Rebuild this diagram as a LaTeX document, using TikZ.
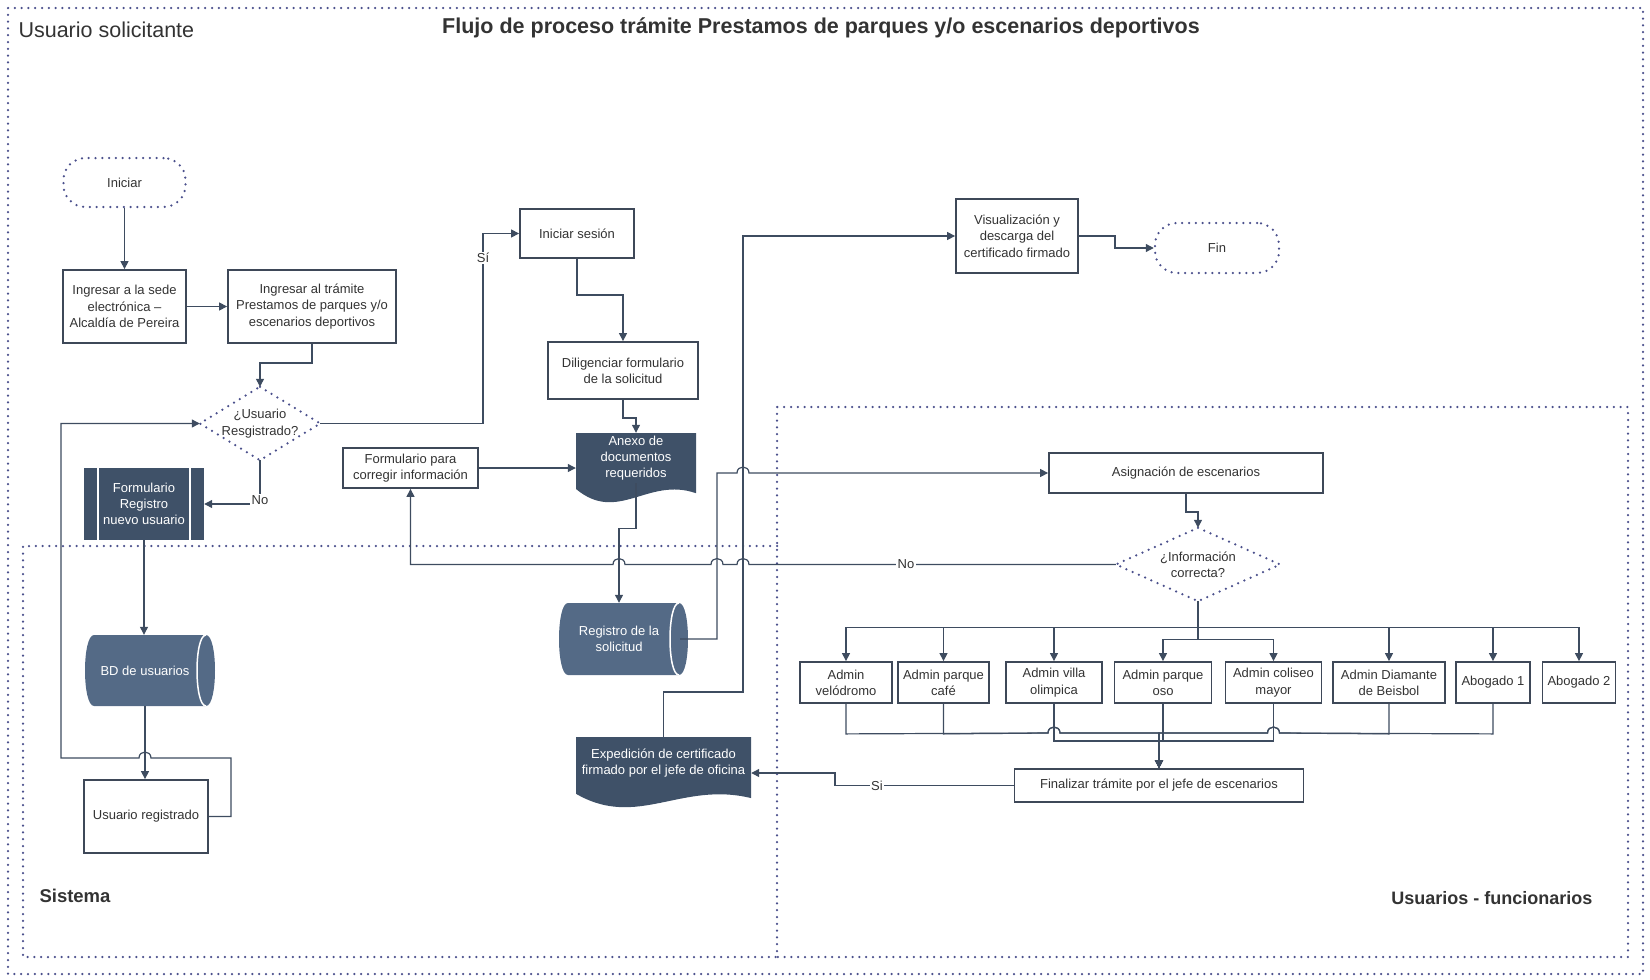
\documentclass[tikz,border=0pt]{standalone}
\usepackage{fontspec}
\setmainfont{Liberation Sans}
\usepackage{xcolor}
\usepackage{tikz}
\usetikzlibrary{arrows.meta,calc}
\definecolor{linecol}{RGB}{62,76,96}
\definecolor{boxcol}{RGB}{62,72,88}
\definecolor{darkfill}{RGB}{63,81,104}
\definecolor{drumfill}{RGB}{84,106,134}
\definecolor{dotcol}{RGB}{75,80,140}
\definecolor{txtcol}{RGB}{51,51,51}

\newcommand{\boxfont}{\fontsize{13}{16.3}\selectfont}
\newcommand{\lanefont}{\fontsize{21.5}{24}\selectfont}
\newcommand{\hopright}[2]{-- ({#1-6},#2) .. controls ({#1-6},{#2-8}) and ({#1+6},{#2-8}) .. ({#1+6},#2)}
\newcommand{\hopleft}[2]{-- ({#1+6},#2) .. controls ({#1+6},{#2-8}) and ({#1-6},{#2-8}) .. ({#1-6},#2)}
\newcommand{\docshape}[4]{\fill[darkfill] (#1,#2) -- ({#1+#3},#2) -- ({#1+#3},{#2+0.86*#4}) .. controls ({#1+0.6*#3},{#2+0.62*#4}) and ({#1+0.35*#3},{#2+1.3*#4}) .. (#1,{#2+0.8*#4}) -- cycle;}
\newcommand{\drumshape}[4]{\fill[drumfill] ({#1+9},#2) -- ({#1+#3-9},#2) .. controls ({#1+#3+3},#2) and ({#1+#3+3},{#2+#4}) .. ({#1+#3-9},{#2+#4}) -- ({#1+9},{#2+#4}) .. controls ({#1-3},{#2+#4}) and ({#1-3},#2) .. ({#1+9},#2) -- cycle;
  \draw[white, line width=1.5pt] ({#1+#3-9},#2) .. controls ({#1+#3-21},#2) and ({#1+#3-21},{#2+#4}) .. ({#1+#3-9},{#2+#4});}
\newcommand{\rombo}[1]{\draw[dotline] (#1.north) -- (#1.east) -- (#1.south) -- (#1.west) -- cycle;}

\begin{document}
\begin{tikzpicture}[x=1pt, y=-1pt,
  box/.style={rectangle, draw=boxcol, line width=1.8pt, fill=white, text=txtcol,
              font=\boxfont, align=center, inner sep=2pt},
  admin/.style={box, minimum height=41pt},
  dotline/.style={draw=dotcol, line width=2.5pt, line cap=round, dash pattern=on 0pt off 6.8pt},
  term/.style={rectangle, rounded corners=22pt, dotline, text=txtcol, font=\boxfont},
  decision/.style={rectangle, inner sep=0pt, text=txtcol, font=\boxfont, align=center},
  predef/.style={rectangle, fill=darkfill, text=white, font=\boxfont, align=center, inner sep=2pt,
              path picture={\draw[white, line width=1.2pt]
                ([xshift=14pt]path picture bounding box.north west) -- ([xshift=14pt]path picture bounding box.south west)
                ([xshift=-14pt]path picture bounding box.north east) -- ([xshift=-14pt]path picture bounding box.south east);}},
  doc/.style={rectangle, inner sep=0pt, text=white, font=\boxfont, align=center},
  drum/.style={rectangle, inner sep=0pt, text=white, font=\boxfont, align=center},
  lbl/.style={fill=white, inner sep=1.5pt, text=txtcol, font=\boxfont},
  arrow/.style={-{Triangle[length=8pt,width=8pt]}, line width=1.2pt, color=linecol},
  carril/.style={text=txtcol, font=\lanefont}
]
  \useasboundingbox (0,0) rectangle (1650,980);

  \draw[dotline] (8,8) rectangle (1643,974);
  \draw[dotline] (777,546) -- (23,546) -- (23,957) -- (777,957);
  \draw[dotline] (777,407) rectangle (1628,957);

  \node[carril, anchor=west] (solic) at (15,30) {Usuario solicitante};
  \node[carril, font=\lanefont\bfseries] (titulo) at (821,28) {Flujo de proceso trámite Prestamos de parques y/o escenarios deportivos};
  \node[carril, anchor=west, font=\fontsize{18.5}{22}\selectfont\bfseries] (sist) at (36,896) {Sistema};
  \node[carril, anchor=east, font=\fontsize{18}{22}\selectfont\bfseries] (usufun) at (1596,898) {Usuarios - funcionarios};

  \docshape{576}{433}{120}{70}
  \docshape{576}{737}{175}{71}
  \drumshape{85}{635}{130}{71}
  \drumshape{559}{603}{129}{72}

  \node[term, minimum width=122pt, minimum height=49pt] (iniciar) at (124.5,182.5) {Iniciar};
  \node[box, minimum width=123pt, minimum height=73pt] (sede) at (124.5,306.5) {Ingresar a la sede\\electrónica –\\Alcaldía de Pereira};
  \node[box, minimum width=168pt, minimum height=73pt] (tramite) at (312,306.5) {Ingresar al trámite\\Prestamos de parques y/o\\escenarios deportivos};
  \node[decision, minimum width=120pt, minimum height=73pt] (usureg) at (260,423.5) {¿Usuario\\Resgistrado?};
  \node[predef, minimum width=120pt, minimum height=72pt] (formreg) at (144,504) {Formulario\\Registro\\nuevo usuario};
  \node[drum, minimum width=122pt, minimum height=71pt] (bdusu) at (145,670.5) {BD de usuarios};
  \node[box, minimum width=124pt, minimum height=73pt] (usuregd) at (146,816.5) {Usuario registrado};
  \node[box, minimum width=114pt, minimum height=49pt] (sesion) at (577,233.5) {Iniciar sesión};
  \node[box, minimum width=150pt, minimum height=57pt] (dilig) at (623,370.5) {Diligenciar formulario\\de la solicitud};
  \node[doc, minimum width=120pt, minimum height=50pt] (anexo) at (636,458) {Anexo de\\documentos\\requeridos};
  \node[box, minimum width=135pt, minimum height=40pt] (formcorr) at (410.5,468) {Formulario para\\corregir información};
  \node[drum, minimum width=122pt, minimum height=72pt] (regsol) at (619,639) {Registro de la\\solicitud};
  \node[doc, minimum width=175pt, minimum height=52pt] (expcert) at (663.5,763) {Expedición de certificado\\firmado por el jefe de oficina};
  \node[box, minimum width=122pt, minimum height=74pt] (visual) at (1017,236) {Visualización y\\descarga del\\certificado firmado};
  \node[term, minimum width=124pt, minimum height=50pt] (fin) at (1217,248) {Fin};
  \node[box, minimum width=274pt, minimum height=40pt] (asign) at (1186,473) {Asignación de escenarios};
  \node[decision, minimum width=164pt, minimum height=73pt] (infocorr) at (1198,564.5) {¿Información\\correcta?};
  \node[admin, minimum width=92pt] (velo) at (846,682.5) {Admin\\velódromo};
  \node[admin, minimum width=91pt] (cafe) at (943.5,682.5) {Admin parque\\café};
  \node[admin, minimum width=96pt] (villa) at (1054,682.5) {Admin villa\\olimpica};
  \node[admin, minimum width=97pt] (oso) at (1163,682.5) {Admin parque\\oso};
  \node[admin, minimum width=96pt] (coliseo) at (1273.5,682.5) {Admin coliseo\\mayor};
  \node[admin, minimum width=112pt] (diam) at (1389,682.5) {Admin Diamante\\de Beisbol};
  \node[admin, minimum width=74pt] (abo1) at (1493,682.5) {Abogado 1};
  \node[admin, minimum width=73pt] (abo2) at (1579,682.5) {Abogado 2};
  \node[box, minimum width=289pt, minimum height=33pt] (finaliz) at (1159,785.5) {Finalizar trámite por el jefe de escenarios};

  \rombo{usureg}
  \rombo{infocorr}

  \draw[arrow] (iniciar) -- (sede);
  \draw[arrow] (sede) -- (tramite);
  \draw[arrow] (tramite.south) -- ++(0,19) -| (usureg.north);
  \draw[arrow] (usureg.east) -- (483,423.5) -- (483,258) node[lbl]{Sí} -- (483,233.5) -- (sesion.west);
  \draw[arrow] (usureg.south) |- node[lbl, pos=0.45]{No} (formreg.east);
  \draw[arrow] (formreg.south) -- (formreg.south |- bdusu.north);
  \draw[arrow] (bdusu.south) -- (bdusu.south |- usuregd.north);
  \draw[arrow] (usuregd.east) -- ++(22,0) -- ++(0,-58.5) \hopleft{145}{758} -- (61,758) |- (usureg.west);
  \draw[arrow] (sesion.south) -- ++(0,36) -| (dilig.north);
  \draw[arrow] (dilig.south) -- ++(0,18) -| (anexo.north);
  \draw[arrow] (formcorr.east) -- (formcorr.east -| anexo.west);
  \draw[arrow] (anexo.south) -- ++(0,45) -| (regsol.north);
  \draw[arrow] (regsol.east) -| (717,473) \hopright{743}{473} -- (asign.west);
  \draw[arrow] (expcert.north) |- (743,692) |- (visual.west);
  \draw[arrow] (visual.east) -- ++(36,0) |- (fin.west);
  \draw[arrow] (asign.south) -- ++(0,18) -| (infocorr.north);
  \draw[arrow] (infocorr.west) -- (906,564.5) node[lbl]{No} \hopleft{743}{564.5} \hopleft{717}{564.5} \hopleft{619}{564.5} -| (formcorr.south);
  \foreach \n in {velo,cafe,villa,diam,abo1,abo2}
    \draw[arrow] (infocorr.south) -- ++(0,26) -| (\n.north);
  \foreach \n in {oso,coliseo}
    \draw[arrow] (infocorr.south) -- ++(0,38) -| (\n.north);
  \foreach \n in {velo,cafe}
    \draw[arrow] (\n.south) -- ++(0,30) \hopright{1054}{733} -| (finaliz.north);
  \foreach \n in {diam,abo1}
    \draw[arrow] (\n.south) -- ++(0,30) \hopleft{1273.5}{733} -| (finaliz.north);
  \foreach \n in {villa,oso,coliseo}
    \draw[arrow] (\n.south) -- ++(0,37) -| (finaliz.north);
  \draw[arrow] (finaliz.west) -- (877,785.5) node[lbl]{Si} -- (835,785.5) |- ([yshift=-10pt]expcert.east);
\end{tikzpicture}
\end{document}
